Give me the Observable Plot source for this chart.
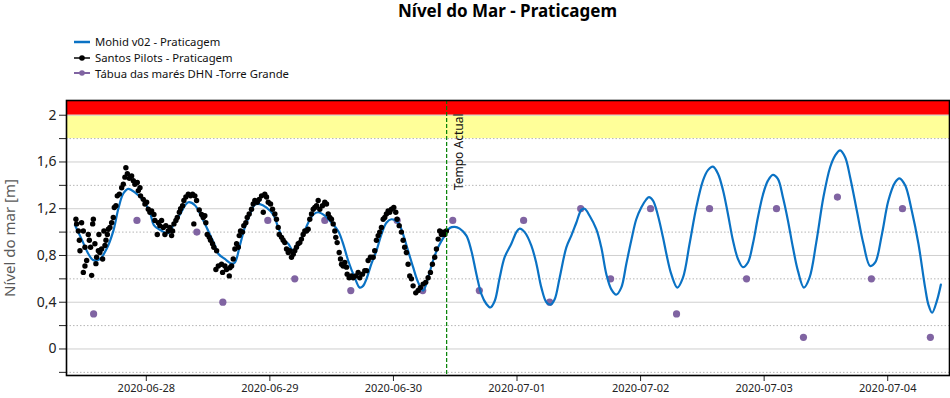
<!DOCTYPE html>
<html><head><meta charset="utf-8">
<script src="https://cdn.jsdelivr.net/npm/d3@7"></script>
<script src="https://cdn.jsdelivr.net/npm/@observablehq/plot@0.6"></script>
<style>
body{margin:0;background:#fff;font-family:"Noto Sans",sans-serif;}
#wrap{position:relative;width:950px;height:398px;overflow:hidden;}
#title{position:absolute;left:66px;width:883px;top:0px;text-align:center;font-weight:bold;font-size:17px;line-height:21px;color:#000;}
#legend{position:absolute;left:74px;top:34px;font-size:11.3px;color:#111;}
.item{height:15.7px;display:flex;align-items:center;white-space:nowrap;}
.item svg{margin-right:5px;}
#ylab{position:absolute;left:9px;top:238px;transform:translate(-50%,-50%) rotate(-90deg);white-space:nowrap;font-size:15px;color:#595959;}
#chart{position:absolute;left:0;top:88px;}
svg g[aria-label^="y-axis"] text{font-size:14px;}
svg g[aria-label^="x-axis"] text{font-size:11px;}
</style></head>
<body>
<div id="wrap">
  <div id="title">Nível do Mar - Praticagem</div>
  <div id="legend"></div>
  <div id="ylab">Nível do mar [m]</div>
  <div id="chart"></div>
</div>
<script>
// ---- Data ----
const seriesNames = ["Mohid v02 - Praticagem", "Santos Pilots - Praticagem", "Tábua das marés DHN -Torre Grande"];
const seriesColors = ["#0a72c4", "#000000", "#8064a2"];

const xStart = "2020-06-27 08:30";
const xEnd = "2020-07-04 12:00";
const dayTicks = ["2020-06-28 00:00","2020-06-29 00:00","2020-06-30 00:00","2020-07-01 00:00","2020-07-02 00:00","2020-07-03 00:00","2020-07-04 00:00"];
const yMin = -0.227, yMax = 2.126;
const yMajorTicks = [0, 0.4, 0.8, 1.2, 1.6, 2];
const yMinorTicks = [-0.2, 0.2, 0.6, 1.0, 1.4, 1.8];
const alertBands = [{from: 1.8, to: 2.0, color: "#ffff99"}, {from: 2.0, to: yMax, color: "#ff0000"}];
const nowTime = "2020-06-30 10:20";
const nowLabel = "Tempo Actual";

// Mohid model
const modelTimes = ["2020-06-27 10:08","2020-06-27 11:26","2020-06-27 12:44","2020-06-27 13:43","2020-06-27 15:00","2020-06-27 16:18","2020-06-27 17:36","2020-06-27 18:34","2020-06-27 19:32","2020-06-27 20:30","2020-06-27 21:47","2020-06-27 23:25",
"2020-06-28 00:42","2020-06-28 01:28","2020-06-28 02:38","2020-06-28 04:16","2020-06-28 05:14","2020-06-28 06:31","2020-06-28 08:09","2020-06-28 09:26","2020-06-28 10:44","2020-06-28 12:02","2020-06-28 13:19","2020-06-28 13:59","2020-06-28 15:15","2020-06-28 16:33","2020-06-28 17:12","2020-06-28 18:10","2020-06-28 19:08","2020-06-28 20:07","2020-06-28 21:05","2020-06-28 22:03","2020-06-28 23:21",
"2020-06-29 00:39","2020-06-29 01:37","2020-06-29 02:35","2020-06-29 03:34","2020-06-29 04:32","2020-06-29 05:30","2020-06-29 06:28","2020-06-29 07:27","2020-06-29 08:25","2020-06-29 09:23","2020-06-29 10:40","2020-06-29 11:58","2020-06-29 13:16","2020-06-29 14:14","2020-06-29 15:12","2020-06-29 16:29","2020-06-29 17:27","2020-06-29 18:07","2020-06-29 18:46","2020-06-29 19:44","2020-06-29 20:42","2020-06-29 21:40","2020-06-29 22:38","2020-06-29 23:37",
"2020-06-30 00:55","2020-06-30 01:53","2020-06-30 02:51","2020-06-30 03:49","2020-06-30 04:48","2020-06-30 05:46","2020-06-30 06:44","2020-06-30 07:42","2020-06-30 08:41","2020-06-30 09:57","2020-06-30 10:56","2020-06-30 11:54","2020-06-30 12:52","2020-06-30 14:10","2020-06-30 15:08","2020-06-30 16:07","2020-06-30 17:05","2020-06-30 18:03","2020-06-30 18:50","2020-06-30 19:40","2020-06-30 20:38","2020-06-30 21:36","2020-06-30 22:54","2020-06-30 23:53",
"2020-07-01 00:31","2020-07-01 01:29","2020-07-01 02:47","2020-07-01 03:46","2020-07-01 04:44","2020-07-01 05:42","2020-07-01 06:32","2020-07-01 07:19","2020-07-01 08:17","2020-07-01 09:35","2020-07-01 10:33","2020-07-01 11:31","2020-07-01 12:30","2020-07-01 13:08","2020-07-01 14:06","2020-07-01 15:24","2020-07-01 16:22","2020-07-01 17:21","2020-07-01 18:19","2020-07-01 19:17","2020-07-01 20:15","2020-07-01 21:14","2020-07-01 22:12","2020-07-01 23:10",
"2020-07-02 00:08","2020-07-02 01:07","2020-07-02 01:38","2020-07-02 02:25","2020-07-02 03:23","2020-07-02 04:21","2020-07-02 04:59","2020-07-02 05:58","2020-07-02 07:08","2020-07-02 08:14","2020-07-02 09:31","2020-07-02 10:49","2020-07-02 12:07","2020-07-02 13:05","2020-07-02 14:03","2020-07-02 15:02","2020-07-02 16:00","2020-07-02 16:58","2020-07-02 17:56","2020-07-02 18:55","2020-07-02 19:53","2020-07-02 20:51","2020-07-02 21:49","2020-07-02 22:47","2020-07-02 23:46",
"2020-07-03 00:44","2020-07-03 01:42","2020-07-03 02:40","2020-07-03 03:38","2020-07-03 04:37","2020-07-03 05:35","2020-07-03 06:33","2020-07-03 07:43","2020-07-03 08:49","2020-07-03 10:07","2020-07-03 11:31","2020-07-03 12:49","2020-07-03 13:47","2020-07-03 14:46","2020-07-03 15:44","2020-07-03 16:42","2020-07-03 18:01","2020-07-03 19:17","2020-07-03 20:35","2020-07-03 21:34","2020-07-03 22:52",
"2020-07-04 00:08","2020-07-04 01:26","2020-07-04 02:16","2020-07-04 03:23","2020-07-04 04:41","2020-07-04 05:58","2020-07-04 07:16","2020-07-04 07:54","2020-07-04 08:37","2020-07-04 09:32","2020-07-04 10:19"];
const modelValues = [1.06,0.94,0.815,0.76,0.77,0.857,1.01,1.20,1.33,1.37,1.34,1.27,
1.17,1.06,1.02,0.99,1.06,1.15,1.255,1.23,1.13,1.01,0.886,0.815,0.77,0.73,0.74,0.885,1.04,1.15,1.235,1.24,1.21,
1.15,1.04,0.94,0.90,0.84,0.885,0.98,1.08,1.15,1.17,1.14,1.08,1.01,0.90,0.757,0.61,0.525,0.54,0.60,0.73,0.84,0.98,1.08,1.11,
1.08,0.98,0.84,0.70,0.57,0.50,0.61,0.757,0.87,0.97,1.035,1.045,1.03,0.97,0.84,0.64,0.47,0.385,0.355,0.41,0.61,0.785,0.90,1.00,
1.03,1.00,0.885,0.73,0.525,0.40,0.38,0.425,0.61,0.87,0.97,1.08,1.19,1.20,1.14,1.025,0.87,0.64,0.51,0.465,0.525,0.73,0.93,1.11,
1.21,1.28,1.30,1.27,1.14,0.955,0.82,0.64,0.525,0.61,0.90,1.21,1.44,1.53,1.56,1.50,1.36,1.155,0.93,0.77,0.70,0.74,0.90,1.125,1.32,
1.44,1.49,1.455,1.30,1.10,0.87,0.67,0.525,0.61,0.91,1.30,1.555,1.655,1.70,1.64,1.47,1.18,0.90,0.71,0.74,0.98,
1.27,1.425,1.46,1.40,1.18,0.90,0.525,0.38,0.31,0.41,0.55];

// Santos Pilots observations: hours after 2020-06-28 00:00 UTC, and level [m]
const obsOrigin = "2020-06-28 00:00";
const obsHours = [-13.66,-13.53,-13.20,-13.00,-12.89,-12.56,-12.23,-12.23,-11.92,-11.92,-11.59,-11.26,-11.06,-10.81,-10.62,-10.42,-10.29,-9.98,-9.78,-9.65,-9.32,-9.20,-9.01,-8.68,-8.48,-8.23,-8.04,-7.84,-7.57,-7.38,-7.07,-6.74,-6.41,-6.21,-5.90,-5.63,-5.24,-4.79,-4.46,-4.15,-3.96,-3.69,-3.30,-2.85,-2.52,-2.21,-1.75,-1.55,-1.24,-1.11,-0.58,-0.27,
0.06,0.39,0.70,1.03,1.48,1.67,2.14,2.33,2.64,2.97,3.30,3.61,3.80,4.27,4.58,4.91,5.10,5.36,5.75,6.02,6.41,6.66,7.05,7.30,7.69,8.15,8.60,8.99,9.24,9.43,9.76,10.29,10.73,11.06,11.37,11.57,11.84,12.23,12.48,12.87,13.12,13.51,13.65,13.98,14.62,14.81,15.26,15.59,16.11,16.23,16.56,16.89,17.20,17.53,17.86,18.05,18.30,18.69,18.94,19.33,19.60,19.99,20.44,20.77,21.08,21.55,21.93,22.38,22.71,23.02,23.35,23.68,
24.13,24.51,24.96,25.29,25.62,25.82,26.26,26.59,26.90,27.23,27.56,27.87,28.20,28.53,28.84,29.17,29.50,29.81,30.14,30.47,30.78,31.11,31.44,31.75,32.08,32.41,32.73,33.06,33.39,33.70,34.22,34.67,35.00,35.33,35.64,35.97,36.30,36.61,36.80,37.07,37.46,37.71,37.91,38.24,38.55,38.88,39.01,39.40,39.85,40.18,40.68,41.15,41.46,41.98,42.43,42.76,43.09,43.54,44.06,44.37,44.70,45.03,45.34,45.67,46.00,46.31,46.64,46.97,47.28,47.61,
48.06,48.45,48.72,49.11,49.55,49.88,50.19,50.52,50.85,51.16,51.50,51.82,52.33,52.80,53.24,53.77,54.27,54.74,55.18,55.57,56.02,56.35,56.68,56.99,57.32,57.63,57.96,58.29];
const obsValues = [1.11,1.07,1.01,0.93,0.84,1.08,1.01,0.655,0.87,0.71,0.757,0.98,0.93,0.87,0.63,1.07,1.11,0.90,0.73,0.785,0.84,0.98,0.825,0.855,0.77,1.01,0.885,0.93,0.98,1.025,1.04,1.08,1.125,1.21,1.225,1.31,1.325,1.38,1.41,1.47,1.55,1.50,1.46,1.48,1.44,1.41,1.425,1.355,1.38,1.31,1.28,1.24,
1.255,1.195,1.17,1.18,1.15,1.10,0.98,1.08,1.055,1.10,1.04,0.98,1.055,1.01,1.04,0.97,1.01,1.07,1.10,1.125,1.17,1.20,1.225,1.27,1.30,1.325,1.31,1.325,1.07,1.31,1.27,1.19,1.15,1.125,1.14,1.08,0.98,0.955,0.93,0.90,0.87,0.68,0.84,0.71,0.725,0.655,0.71,0.68,0.625,0.695,0.71,0.77,0.855,0.90,0.87,0.97,1.01,1.00,1.055,1.08,1.125,1.155,1.195,1.24,1.27,1.255,1.28,1.31,1.17,1.325,1.30,1.255,
1.24,1.195,1.155,1.11,1.04,0.98,0.955,0.93,0.91,0.855,0.825,0.84,0.785,0.81,0.84,0.87,0.90,0.91,0.94,0.98,1.01,1.01,1.025,1.11,1.155,1.195,1.21,1.225,1.27,1.195,1.225,1.255,1.24,1.155,1.125,1.11,1.07,1.01,0.955,0.91,0.825,0.77,0.725,0.71,0.74,0.70,0.64,0.61,0.625,0.61,0.625,0.655,0.61,0.64,0.67,0.67,0.757,0.785,0.785,0.84,0.93,0.97,1.00,1.04,1.11,1.125,1.155,1.18,1.17,1.195,
1.21,1.17,1.11,1.055,1.00,0.93,0.87,0.825,0.725,0.625,0.60,0.54,0.48,0.50,0.525,0.555,0.57,0.61,0.655,0.725,0.785,0.855,0.94,1.01,0.98,1.00,0.98,1.01];

// Tide table (DHN Torre Grande)
const tideTimes = ["2020-06-27 13:46","2020-06-27 22:11","2020-06-28 09:49","2020-06-28 14:52","2020-06-28 23:36","2020-06-29 04:50","2020-06-29 10:40","2020-06-29 15:43","2020-06-30 00:43","2020-06-30 05:41","2020-06-30 11:31","2020-06-30 16:41","2020-07-01 01:17","2020-07-01 06:20","2020-07-01 12:22","2020-07-01 18:11","2020-07-02 01:56","2020-07-02 06:59","2020-07-02 13:24","2020-07-02 20:35","2020-07-03 02:24","2020-07-03 07:38","2020-07-03 14:14","2020-07-03 20:50","2020-07-04 02:52","2020-07-04 08:17"];
const tideValues = [0.3,1.1,1.0,0.4,1.1,0.6,1.1,0.5,1.1,0.5,1.1,0.5,1.1,0.4,1.2,0.6,1.2,0.3,1.2,0.6,1.2,0.1,1.3,0.6,1.2,0.1];

// ---- Build ----
const parse = d3.utcParse("%Y-%m-%d %H:%M");
const t0 = parse(obsOrigin);
const model = modelTimes.map((t, i) => ({t: parse(t), v: modelValues[i]}));
const obs = obsHours.map((h, i) => ({t: d3.utcMinute.offset(t0, Math.round(h * 60)), v: obsValues[i]}));
const tide = tideTimes.map((t, i) => ({t: parse(t), v: tideValues[i]}));
const fmtY = d => (yMajorTicks.some(m => Math.abs(m - d) < 1e-9) ? String(+d.toFixed(1)).replace(".", ",") : "");

// Legend
const leg = d3.select("#legend");
seriesNames.forEach((name, i) => {
  const it = leg.append("div").attr("class", "item");
  const s = it.append("svg").attr("width", 16).attr("height", 10);
  s.append("line").attr("x1", 0).attr("x2", 16).attr("y1", 5).attr("y2", 5)
    .attr("stroke", i === 1 ? "#444" : seriesColors[i]).attr("stroke-width", i === 0 ? 2.5 : 2);
  if (i > 0) s.append("circle").attr("cx", 8).attr("cy", 5).attr("r", 2.8).attr("fill", seriesColors[i]);
  it.append("span").text(name);
});

const chart = Plot.plot({
  width: 950, height: 310,
  marginTop: 12, marginBottom: 23, marginLeft: 66, marginRight: 1,
  style: {fontFamily: "'Noto Sans', sans-serif", color: "#222", background: "transparent"},
  x: {type: "utc", domain: [parse(xStart), parse(xEnd)], ticks: dayTicks.map(parse),
      tickFormat: d3.utcFormat("%Y-%m-%d"), tickSize: 6, tickPadding: 3, label: null},
  y: {domain: [yMin, yMax], ticks: [...yMinorTicks, ...yMajorTicks].sort((a, b) => a - b),
      tickFormat: fmtY, tickSize: 7, tickPadding: 3, label: null},
  marks: [
    Plot.rect(alertBands, {y1: "from", y2: "to", fill: "color"}),
    Plot.ruleY(yMajorTicks, {stroke: "#cfcfcf", strokeWidth: 1}),
    Plot.ruleY(yMinorTicks, {stroke: "#b5b5b5", strokeWidth: 1, strokeDasharray: "1.5,2"}),
    Plot.dot(tide, {x: "t", y: "v", r: 3.6, fill: seriesColors[2], stroke: "none"}),
    Plot.line(model, {x: "t", y: "v", stroke: seriesColors[0], strokeWidth: 2.2, curve: "catmull-rom"}),
    Plot.dot(obs, {x: "t", y: "v", r: 2.7, fill: seriesColors[1], stroke: "none"}),
    Plot.ruleX([parse(nowTime)], {stroke: "#008000", strokeWidth: 1.2, strokeDasharray: "4,2"}),
    Plot.text([nowLabel], {x: () => parse(nowTime), frameAnchor: "top", dy: 13, dx: 8, rotate: -90,
      textAnchor: "end", fontSize: 12, fill: "#111"}),
    Plot.frame({stroke: "#000", strokeWidth: 1.6})
  ]
});
document.getElementById("chart").appendChild(chart);
</script>
</body></html>
